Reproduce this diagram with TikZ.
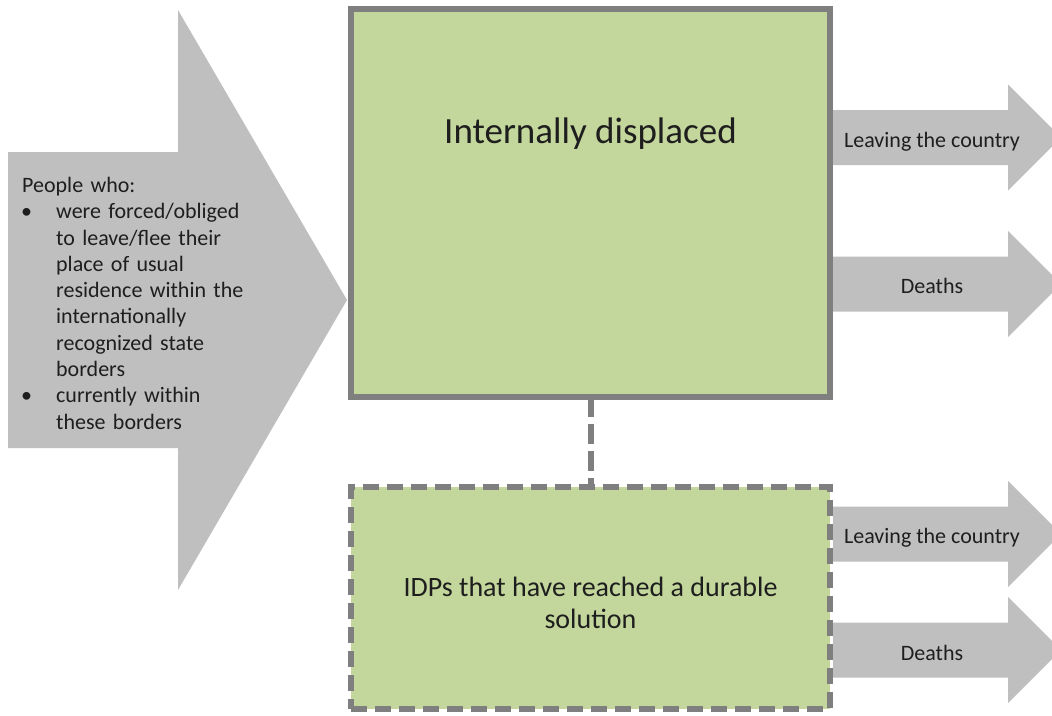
\documentclass[tikz,border=0pt]{standalone}
\usepackage{fontspec}
\setmainfont{Carlito}
\definecolor{arrowgray}{HTML}{BFBFBF}
\definecolor{boxgreen}{HTML}{C3D69B}
\definecolor{edgegray}{HTML}{7F7F7F}
\definecolor{txt}{HTML}{1E1E1E}
\tikzset{
  flowarrow/.style={fill=arrowgray, draw=none},
  greenbox/.style={rectangle, fill=boxgreen, draw=edgegray, inner sep=0pt, outer sep=0pt},
  solidbox/.style={greenbox, line width=6pt},
  dashbox/.style={greenbox, line width=5.5pt, dash pattern=on 16pt off 8pt},
  lbl/.style={text=txt, inner sep=0pt},
  sidelbl/.style={lbl, anchor=base, font=\fontsize{22}{26}\selectfont},
}
\newcommand{\rightflow}[1]{%
  \fill[arrowgray] (833,#1-27.5) -- (1008,#1-27.5) -- (1008,#1-53) -- (1061,#1)
    -- (1008,#1+53) -- (1008,#1+27.5) -- (833,#1+27.5) -- cycle;}
\begin{document}
\begin{tikzpicture}[x=1pt,y=-1pt]
\useasboundingbox (0,0) rectangle (1052,715);
\clip (0,0) rectangle (1052,715);
\fill[white] (0,0) rectangle (1052,715);

% big input arrow
\fill[arrowgray] (8,152) -- (178,152) -- (178,10) -- (347,300) -- (178,590)
  -- (178,448) -- (8,448) -- cycle;
\node[lbl, anchor=north west, text width=235pt, align=left,
      font=\fontsize{22}{26.3}\selectfont] (people) at (22,177)
 {People who:\\
  \makebox[34pt][l]{\hspace*{-1pt}•}were forced/obliged\\
  \hspace*{34pt}to leave/flee their\\
  \hspace*{34pt}place of usual\\
  \hspace*{34pt}residence within the\\
  \hspace*{34pt}internationally\\
  \hspace*{34pt}recognized state\\
  \hspace*{34pt}borders\\
  \makebox[34pt][l]{\hspace*{-1pt}•}currently within\\
  \hspace*{34pt}these borders};

% output arrows
\rightflow{137.5}
\rightflow{284}
\rightflow{534}
\rightflow{650}

% boxes
\node[solidbox, minimum width=479pt, minimum height=388pt] (idp) at (590.5,203) {};
\node[dashbox, minimum width=479pt, minimum height=222pt] (durable) at (590.5,598) {};
\draw[edgegray, line width=6pt, dash pattern=on 20pt off 7pt] (idp.south) -- (durable.north);

\node[lbl, anchor=base, font=\fontsize{37}{43}\selectfont] (idptext) at (590.5,143) {Internally displaced};
\node[lbl, anchor=center, align=center, font=\fontsize{28}{32}\selectfont] (durtext) at (590.5,603)
 {IDPs that have reached a durable\\solution};

% labels on output arrows
\node[sidelbl] (leave1) at (932,147) {Leaving the country};
\node[sidelbl] (death1) at (932,293) {Deaths};
\node[sidelbl] (leave2) at (932,543) {Leaving the country};
\node[sidelbl] (death2) at (932,660) {Deaths};
\end{tikzpicture}
\end{document}
